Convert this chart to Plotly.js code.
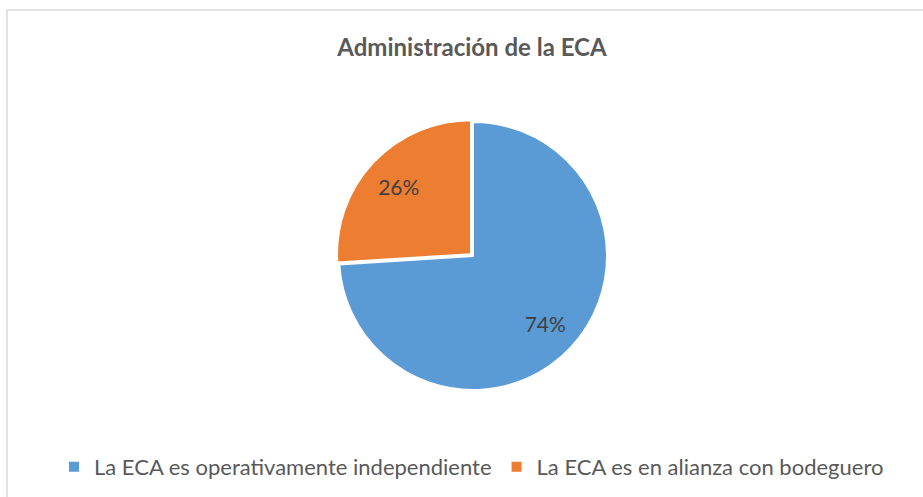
<!DOCTYPE html>
<html>
<head>
<meta charset="utf-8">
<script src="https://cdn.plot.ly/plotly-3.0.1.min.js"></script>
<style>html,body{margin:0;padding:0;background:#fff;}#chart{width:923px;height:497px;}</style>
</head>
<body>
<div id="chart"></div>
<script>
const categories = ["La ECA es operativamente independiente", "La ECA es en alianza con bodeguero"];
const values = [74, 26];
const colors = ["#5B9BD5", "#ED7D31"];
const chartTitle = "Administración de la ECA";

const W = 923, H = 497;
const pull = 0.02;
// desired pie center and radius in px
const cx = 473, cy = 256, r = 134;
const half = r * (1 + pull);
const domain = {
  x: [(cx - half) / W, (cx + half) / W],
  y: [(H - cy - half) / H, (H - cy + half) / H]
};

const data = [{
  type: "pie",
  labels: categories,
  values: values,
  sort: false,
  direction: "clockwise",
  rotation: 0,
  pull: [0, pull],
  marker: { colors: colors, line: { color: "#ffffff", width: 2 } },
  textinfo: "none",
  textposition: "none",
  hoverinfo: "label+percent",
  domain: domain
}, {
  // transparent ring carrying the data labels at ~3/4 of the radius
  type: "pie",
  labels: categories,
  values: values,
  sort: false,
  direction: "clockwise",
  rotation: 0,
  pull: [0, pull],
  hole: 0.48,
  showlegend: false,
  marker: { colors: ["rgba(0,0,0,0)", "rgba(0,0,0,0)"], line: { width: 0 } },
  texttemplate: "%{percent:.0%}",
  textposition: "inside",
  insidetextorientation: "horizontal",
  textfont: { family: "Lato, sans-serif", size: 21, color: "#404040" },
  hoverinfo: "skip",
  domain: domain
}];

const layout = {
  width: W, height: H,
  margin: { l: 0, r: 0, t: 0, b: 0 },
  paper_bgcolor: "#ffffff",
  font: { family: "Lato, sans-serif", color: "#595959" },
  title: {
    text: "<b>" + chartTitle + "</b>",
    font: { family: "Lato, sans-serif", size: 24, color: "#595959" },
    x: 472 / W, xanchor: "center",
    y: 1 - 48 / H, yanchor: "middle"
  },
  showlegend: true,
  legend: {
    orientation: "h",
    x: 471.5 / W, xanchor: "center",
    y: (H - 467) / H, yanchor: "middle",
    font: { family: "Lato, sans-serif", size: 22, color: "#595959" },
    itemclick: false
  },
  shapes: [{
    type: "rect", xref: "paper", yref: "paper",
    x0: 7 / W, x1: 1.05, y0: -0.05, y1: 1 - 10 / H,
    line: { color: "#d9d9d9", width: 1.5 }
  }]
};

Plotly.newPlot("chart", data, layout, { displayModeBar: false, staticPlot: true });
</script>
</body>
</html>
